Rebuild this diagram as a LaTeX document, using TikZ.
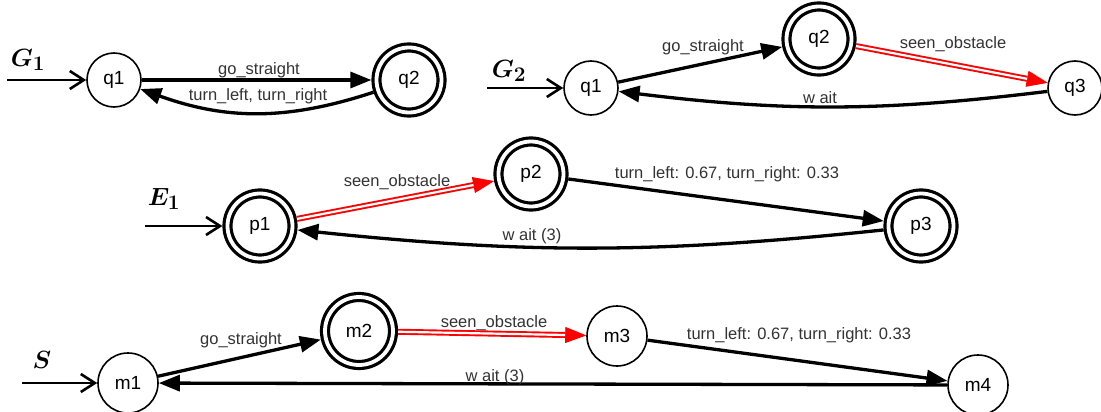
\documentclass[tikz,border=0pt]{standalone}
\usepackage{bm}
\usepackage[no-math]{fontspec}
\newfontfamily\arialf{Liberation Sans}
\usetikzlibrary{arrows.meta}
\newcommand\mylblfont{\arialf\fontsize{16.5}{19}\selectfont}
\newcommand\mynodefont{\arialf\fontsize{19}{22}\selectfont}
\begin{document}
\begin{tikzpicture}[x=1pt,y=-1pt,
  st/.style={circle, draw, line width=1.6pt, inner sep=0pt, minimum size=54pt, font=\mynodefont},
  stm/.style={st, minimum size=60pt},
  acc/.style={circle, draw, line width=3.2pt, double=white, double distance=3.8pt, inner sep=0pt, minimum size=65pt, outer sep=5.1pt, font=\mynodefont},
  accm/.style={acc, minimum size=68pt},
  tr/.style={line width=3.3pt, -{Triangle[length=21pt,width=16pt]}},
  redtip/.style={red, line width=0.8pt, -{Triangle[length=21pt,width=16pt]}},
  redline/.style={draw=red, line width=1.9pt, double=white, double distance=2.2pt, shorten >=21pt},
  initarr/.style={line width=1.8pt, -{Straight Barb[length=14pt,width=18pt,line width=2.6pt]}},
  lbl/.style={font=\mylblfont, text=black!80, inner sep=0pt},
  gl/.style={font=\fontsize{24.88}{28}\selectfont, inner sep=0pt},
]
\fill[white] (0,0) rectangle (1101,412);
\useasboundingbox (0,0) rectangle (1101,412);

% ---------- G1 ----------
\node[gl] (g1) at (28,60) {$\bm{G_1}$};
\node[st] (a1) at (114,80) {q1};
\node[acc] (a2) at (409,80) {q2};
\coordinate (sa) at (7,80);
\draw[initarr] (sa) -- (a1);
\draw[tr] (a1) -- (a2);
\draw[tr] (a2) to[bend left=19] (a1);
\node[lbl] (la1) at (259,70) {go\_straight};
\node[lbl] (la2) at (258,96) {turn\_left, turn\_right};

% ---------- G2 ----------
\node[gl] (g2) at (509,71) {$\bm{G_2}$};
\node[st] (b1) at (591,88) {q1};
\node[acc] (b2) at (819,39) {q2};
\node[st] (b3) at (1075,88) {q3};
\coordinate (sb) at (487,88);
\draw[initarr] (sb) -- (b1);
\draw[tr] (b1) -- (b2);
\draw[redtip] (b2) -- (b3);
\draw[redline] (b2) -- (b3);
\draw[tr] (b3) to[bend left=7] (b1);
\node[lbl] (lb1) at (703,47) {go\_straight};
\node[lbl] (lb2) at (953,44) {seen\_obstacle};
\node[lbl] (lb3) at (820,98) {w ait};

% ---------- E1 ----------
\node[gl] (e1) at (164,199) {$\bm{E_1}$};
\node[acc] (p1) at (260,226) {p1};
\node[acc] (p2) at (531,174) {p2};
\node[acc] (p3) at (921,226) {p3};
\coordinate (sc) at (145,226);
\draw[initarr] (sc) -- (p1);
\draw[redtip] (p1) -- (p2);
\draw[redline] (p1) -- (p2);
\draw[tr] (p2) -- (p3);
\draw[tr] (p3) to[bend left=6] (p1);
\node[lbl] (lp1) at (397,182) {seen\_obstacle};
\node[lbl] (lp2) at (727,174) {turn\_left: 0.67, turn\_right: 0.33};
\node[lbl] (lp3) at (532,236) {w ait (3)};

% ---------- S ----------
\node[gl] (s) at (42,360) {$\bm{S}$};
\node[stm] (m1) at (128,383) {m1};
\node[accm] (m2) at (359,331) {m2};
\node[stm] (m3) at (617,336) {m3};
\node[stm] (m4) at (978,385) {m4};
\coordinate (sd) at (22,383);
\draw[initarr] (sd) -- (m1);
\draw[tr] (m1) -- (m2);
\draw[redtip] (m2) -- (m3);
\draw[redline] (m2) -- (m3);
\draw[tr] (m3) -- (m4);
\draw[tr] (m4) -- (m1);
\node[lbl] (lm1) at (241,340) {go\_straight};
\node[lbl] (lm2) at (494,323) {seen\_obstacle};
\node[lbl] (lm3) at (799,335) {turn\_left: 0.67, turn\_right: 0.33};
\node[lbl] (lm4) at (495,377) {w ait (3)};
\end{tikzpicture}
\end{document}
